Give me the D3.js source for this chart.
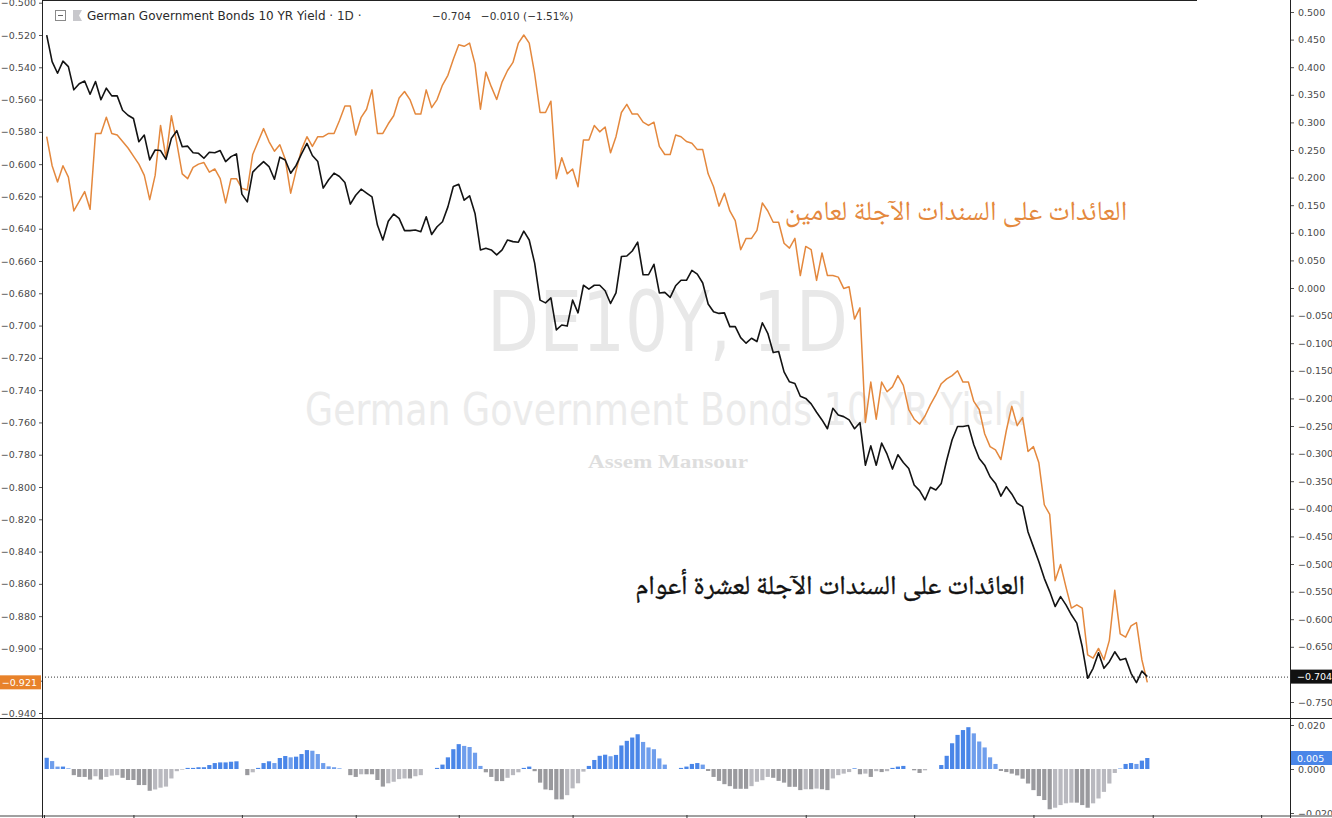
<!DOCTYPE html>
<html><head><meta charset="utf-8">
<script src="https://cdn.jsdelivr.net/npm/d3@7"></script>
<style>
html,body{margin:0;padding:0;background:#fff;}
svg{display:block;}
</style></head><body>
<svg id="chart" width="1332" height="818"></svg>
<script>
// ---- DATA ----
const tenYear = [0.458,0.410,0.389,0.411,0.401,0.359,0.370,0.375,0.351,0.374,
0.341,0.362,0.348,0.348,0.322,0.313,0.307,0.265,0.277,0.232,
0.250,0.249,0.233,0.271,0.285,0.256,0.257,0.245,0.244,0.235,
0.246,0.245,0.249,0.229,0.238,0.243,0.170,0.156,0.210,0.220,
0.229,0.220,0.197,0.237,0.232,0.208,0.222,0.243,0.262,0.240,
0.229,0.181,0.196,0.208,0.202,0.191,0.152,0.168,0.179,0.172,
0.165,0.114,0.087,0.121,0.134,0.126,0.104,0.104,0.105,0.102,
0.129,0.097,0.111,0.120,0.147,0.184,0.188,0.159,0.167,0.135,
0.069,0.072,0.069,0.060,0.069,0.087,0.084,0.083,0.103,0.087,
0.045,-0.022,-0.027,-0.018,-0.076,-0.067,-0.069,-0.022,-0.045,0.005,
-0.002,0.005,0.005,-0.005,-0.028,-0.009,0.057,0.058,0.067,0.083,
0.024,0.024,0.043,-0.009,-0.008,-0.017,0.004,0.014,0.014,0.032,
0.025,0.009,-0.029,-0.043,-0.046,-0.045,-0.070,-0.070,-0.090,-0.100,
-0.091,-0.097,-0.063,-0.082,-0.117,-0.115,-0.152,-0.170,-0.173,-0.196,
-0.200,-0.210,-0.225,-0.239,-0.255,-0.218,-0.230,-0.233,-0.239,-0.255,
-0.244,-0.321,-0.286,-0.321,-0.281,-0.301,-0.328,-0.302,-0.316,-0.327,
-0.357,-0.367,-0.384,-0.361,-0.366,-0.354,-0.312,-0.275,-0.251,-0.251,
-0.249,-0.284,-0.309,-0.321,-0.342,-0.354,-0.377,-0.360,-0.373,-0.390,
-0.396,-0.442,-0.469,-0.496,-0.526,-0.550,-0.577,-0.559,-0.574,-0.592,
-0.607,-0.650,-0.707,-0.689,-0.661,-0.689,-0.677,-0.659,-0.674,-0.671,
-0.698,-0.715,-0.694,-0.704];

const twoYear = [-0.583,-0.601,-0.611,-0.601,-0.608,-0.629,-0.623,-0.617,-0.628,-0.581,
-0.581,-0.571,-0.581,-0.582,-0.586,-0.590,-0.595,-0.600,-0.607,-0.622,
-0.607,-0.576,-0.596,-0.570,-0.587,-0.606,-0.609,-0.602,-0.600,-0.599,
-0.605,-0.603,-0.609,-0.624,-0.609,-0.609,-0.615,-0.616,-0.594,-0.586,
-0.578,-0.586,-0.592,-0.588,-0.597,-0.618,-0.604,-0.591,-0.583,-0.589,
-0.583,-0.583,-0.581,-0.581,-0.573,-0.564,-0.564,-0.582,-0.571,-0.566,
-0.554,-0.581,-0.581,-0.575,-0.570,-0.559,-0.555,-0.560,-0.569,-0.569,
-0.554,-0.565,-0.560,-0.551,-0.545,-0.535,-0.526,-0.527,-0.525,-0.538,
-0.566,-0.543,-0.552,-0.560,-0.549,-0.542,-0.537,-0.525,-0.520,-0.525,
-0.544,-0.568,-0.568,-0.561,-0.609,-0.596,-0.606,-0.603,-0.614,-0.585,
-0.585,-0.576,-0.580,-0.577,-0.593,-0.583,-0.568,-0.563,-0.569,-0.569,
-0.574,-0.576,-0.574,-0.589,-0.594,-0.594,-0.582,-0.583,-0.586,-0.587,
-0.591,-0.591,-0.606,-0.614,-0.626,-0.618,-0.629,-0.635,-0.653,-0.646,
-0.646,-0.641,-0.624,-0.629,-0.636,-0.636,-0.649,-0.652,-0.646,-0.669,
-0.651,-0.653,-0.672,-0.655,-0.669,-0.669,-0.670,-0.677,-0.676,-0.696,
-0.689,-0.760,-0.735,-0.758,-0.735,-0.741,-0.738,-0.731,-0.737,-0.752,
-0.758,-0.761,-0.756,-0.749,-0.743,-0.736,-0.733,-0.731,-0.728,-0.735,
-0.735,-0.747,-0.752,-0.767,-0.775,-0.777,-0.783,-0.765,-0.750,-0.762,
-0.757,-0.778,-0.775,-0.785,-0.811,-0.817,-0.858,-0.848,-0.862,-0.875,
-0.873,-0.875,-0.904,-0.906,-0.900,-0.907,-0.895,-0.864,-0.891,-0.893,
-0.886,-0.884,-0.907,-0.921];

const histValues = [0.0051,0.0036,0.0011,0.0011,0.0003,-0.0028,-0.0036,-0.0036,-0.0048,-0.0033,
-0.0048,-0.0036,-0.003,-0.0028,-0.004,-0.005,-0.005,-0.0073,-0.0073,-0.0099,
-0.0093,-0.0085,-0.008,-0.0043,-0.001,-0.0003,0.0005,0.0005,0.0008,0.0008,
0.0018,0.0027,0.003,0.003,0.0033,0.0035,0,-0.0028,-0.0015,0.0005,
0.0027,0.0035,0.0027,0.005,0.0059,0.0053,0.0056,0.0068,0.0086,0.0083,
0.0068,0.0027,0.0012,0.0008,0.0003,0,-0.0028,-0.0036,-0.0024,-0.0024,
-0.0024,-0.005,-0.008,-0.0065,-0.0058,-0.0046,-0.0043,-0.0043,-0.0033,-0.0028,
0,0,0.0005,0.002,0.0053,0.009,0.0113,0.0105,0.01,0.0074,
0.0014,-0.0015,-0.0036,-0.0055,-0.0055,-0.004,-0.0028,-0.0015,0.0005,0.0011,
-0.001,-0.0062,-0.0093,-0.0096,-0.0138,-0.0138,-0.0119,-0.0088,-0.0065,-0.0012,
0.0014,0.0041,0.006,0.0065,0.0058,0.0064,0.0107,0.0128,0.0143,0.0158,
0.0123,0.0098,0.009,0.0048,0.002,0,0,0.0005,0.0011,0.0023,
0.0027,0.002,-0.0009,-0.0036,-0.0054,-0.0069,-0.0078,-0.009,-0.009,-0.009,
-0.0078,-0.0058,-0.0051,-0.0036,-0.004,-0.0054,-0.0062,-0.0081,-0.0081,-0.0096,
-0.0092,-0.0092,-0.0089,-0.0092,-0.0096,-0.0043,-0.0028,-0.0021,-0.0014,0.0003,
-0.0024,-0.0021,-0.0036,-0.001,-0.0014,-0.001,0.0005,0.0011,0.0014,0,
-0.0006,-0.0018,-0.0006,0,0,0.0018,0.006,0.0117,0.0155,0.0177,
0.019,0.0162,0.0125,0.0098,0.0053,0.0023,-0.0009,-0.0014,-0.0021,-0.0029,
-0.0044,-0.0066,-0.0096,-0.0123,-0.0141,-0.0183,-0.0176,-0.0164,-0.0156,-0.0153,
-0.0153,-0.0164,-0.0176,-0.0156,-0.0134,-0.0104,-0.0066,-0.0018,0.0002,0.0023,
0.0027,0.0023,0.0038,0.005];

const days = tenYear.map((d, i) => i);           // trading-day index
const monthTicks = [-0.5, 16, 36, 57, 76, 97, 118, 140, 160, 182, 204, 224];
const leftTicks = [-0.50,-0.52,-0.54,-0.56,-0.58,-0.60,-0.62,-0.64,-0.66,-0.68,-0.70,-0.72,-0.74,-0.76,-0.78,-0.80,-0.82,-0.84,-0.86,-0.88,-0.90,-0.92,-0.94];
const rightTicks = [0.50,0.45,0.40,0.35,0.30,0.25,0.20,0.15,0.10,0.05,0.00,-0.05,-0.10,-0.15,-0.20,-0.25,-0.30,-0.35,-0.40,-0.45,-0.50,-0.55,-0.60,-0.65,-0.70,-0.75];
const histTicks = [0.02, 0.0, -0.02];
const headerTitle = "German Government Bonds 10 YR Yield";
const headerInterval = " · 1D ·";
const headerValues = "−0.704   −0.010 (−1.51%)";
const label2Y = "العائدات على السندات الآجلة لعامين";
const label10Y = "العائدات على السندات الآجلة لعشرة أعوام";

// ---- LAYOUT ----
const svg = d3.select("#chart");
const W = 1332, H = 818;
const PL = 42, PR = 1290, MAIN_B = 718, HIST_B = 815;
const ORANGE = "#e4883d", BLACK = "#131313";
const AXFONT = "DejaVu Sans, Verdana, sans-serif";

const x = d3.scaleLinear().domain([0, days.length - 1]).range([46.7, 1147.3]);
const yL = d3.scaleLinear().domain([-0.52, -0.94]).range([35, 713]);
const yR = d3.scaleLinear().domain([0.5, -0.75]).range([12, 702]);
const yH = d3.scaleLinear().domain([0.02, -0.02]).range([725, 813]);
const fmt = d3.format(".3f");

svg.append("rect").attr("width", W).attr("height", H).attr("fill", "#fff");

const defs = svg.append("defs");
defs.append("clipPath").attr("id", "clipMain").append("rect")
  .attr("x", PL).attr("y", 0).attr("width", PR - PL).attr("height", MAIN_B);
defs.append("clipPath").attr("id", "clipHist").append("rect")
  .attr("x", PL).attr("y", MAIN_B + 1).attr("width", PR - PL).attr("height", HIST_B - MAIN_B - 1);

// ---- WATERMARKS ----
const wm = svg.append("g").attr("clip-path", "url(#clipMain)");
wm.append("text").text("DE10Y, 1D")
  .attr("x", 487).attr("y", 351).attr("font-family", "DejaVu Sans, sans-serif")
  .attr("font-size", 84).attr("fill", "#e8e8e8")
  .attr("textLength", 361).attr("lengthAdjust", "spacingAndGlyphs");
wm.append("text").text(headerTitle)
  .attr("x", 305).attr("y", 425).attr("font-family", "DejaVu Sans, sans-serif")
  .attr("font-size", 44).attr("fill", "#ebebeb")
  .attr("textLength", 722).attr("lengthAdjust", "spacingAndGlyphs");
wm.append("text").text("Assem Mansour")
  .attr("x", 588).attr("y", 468).attr("font-family", "Liberation Serif, serif")
  .attr("font-weight", "bold").attr("font-size", 19).attr("fill", "#dedede")
  .attr("textLength", 160).attr("lengthAdjust", "spacingAndGlyphs");

// ---- LINES ----
const lineL = d3.line().x((d, i) => x(days[i])).y(d => yL(d));
const lineR = d3.line().x((d, i) => x(days[i])).y(d => yR(d));
const plot = svg.append("g").attr("clip-path", "url(#clipMain)");
plot.append("path").datum(twoYear).attr("d", lineL)
  .attr("fill", "none").attr("stroke", ORANGE).attr("stroke-width", 1.5).attr("stroke-linejoin", "round");
plot.append("path").datum(tenYear).attr("d", lineR)
  .attr("fill", "none").attr("stroke", BLACK).attr("stroke-width", 1.6).attr("stroke-linejoin", "round");

// current price dotted line (10Y)
svg.append("line").attr("x1", PL).attr("x2", PR)
  .attr("y1", yR(tenYear[tenYear.length - 1]) + 0.5).attr("y2", yR(tenYear[tenYear.length - 1]) + 0.5)
  .attr("stroke", "#333").attr("stroke-width", 1).attr("stroke-dasharray", "1,2");

// ---- ARABIC LABELS ----
const arFont = "Noto Naskh Arabic, Noto Sans Arabic, DejaVu Sans, serif";
svg.append("text").text(label2Y).attr("direction", "rtl")
  .attr("x", 956).attr("y", 220).attr("text-anchor", "middle")
  .attr("font-family", arFont).attr("font-size", 27.5).attr("fill", ORANGE);
svg.append("text").text(label10Y).attr("direction", "rtl")
  .attr("x", 830).attr("y", 594).attr("text-anchor", "middle")
  .attr("font-family", arFont).attr("font-size", 27).attr("fill", "#111")
  .attr("stroke", "#111").attr("stroke-width", 0.4);

// ---- HISTOGRAM ----
const bw = 4.2;
svg.append("g").attr("clip-path", "url(#clipHist)")
  .selectAll("rect").data(histValues).join("rect")
  .attr("x", (d, i) => x(days[i]) - bw / 2)
  .attr("width", bw)
  .attr("y", d => Math.min(yH(d), yH(0)))
  .attr("height", d => Math.abs(yH(d) - yH(0)))
  .attr("fill", (d, i) => {
    const p = i > 0 ? histValues[i - 1] : d;
    if (d >= 0) return d >= p ? "#4a86e8" : "#6f9eec";
    return d <= p ? "#9a9a9e" : "#b9b9bf";
  });

// ---- AXES ----
function styleAxis(g) {
  g.select(".domain").remove();
  g.selectAll("text").attr("font-family", AXFONT).attr("font-size", 9.5).attr("fill", "#4a4a4a");
  g.selectAll("line").attr("stroke", "#555");
}
svg.append("g").attr("transform", `translate(${PL},0)`)
  .call(d3.axisLeft(yL).tickValues(leftTicks).tickSize(3).tickPadding(3).tickFormat(fmt))
  .call(styleAxis);
svg.append("g").attr("transform", `translate(${PR},0)`)
  .call(d3.axisRight(yR).tickValues(rightTicks).tickSize(4).tickPadding(4).tickFormat(fmt))
  .call(styleAxis);
svg.append("g").attr("transform", `translate(${PR},0)`)
  .call(d3.axisRight(yH).tickValues(histTicks).tickSize(4).tickPadding(4).tickFormat(fmt))
  .call(styleAxis);

// time axis (bottom, cropped)
svg.append("line").attr("x1", 0).attr("x2", W).attr("y1", HIST_B + 1).attr("y2", HIST_B + 1)
  .attr("stroke", "#a0a0a0").attr("stroke-width", 2);
svg.append("g").attr("transform", `translate(0,${HIST_B})`)
  .call(d3.axisBottom(x).tickValues(monthTicks).tickSize(4).tickFormat(""))
  .call(g => { g.select(".domain").remove(); g.selectAll("line").attr("stroke", "#333"); });

// frame lines
svg.append("line").attr("x1", PL + 0.5).attr("x2", PL + 0.5).attr("y1", 0).attr("y2", H).attr("stroke", "#222");
svg.append("line").attr("x1", PR + 0.5).attr("x2", PR + 0.5).attr("y1", 0).attr("y2", H).attr("stroke", "#222");
svg.append("line").attr("x1", 0).attr("x2", W).attr("y1", MAIN_B + 0.5).attr("y2", MAIN_B + 0.5).attr("stroke", "#222");
svg.append("line").attr("x1", PL).attr("x2", 1197).attr("y1", 0.5).attr("y2", 0.5).attr("stroke", "#222");

// ---- PRICE LABELS ----
function priceTag(xPos, w, yPos, bg, txt, anchor, tx) {
  svg.append("rect").attr("x", xPos).attr("y", yPos - 7).attr("width", w).attr("height", 14).attr("fill", bg);
  svg.append("text").text(txt).attr("x", tx).attr("y", yPos + 3.5).attr("text-anchor", anchor)
    .attr("font-family", AXFONT).attr("font-size", 9.5).attr("fill", "#fff");
}
priceTag(0, PL - 1, yL(twoYear[twoYear.length - 1]), "#e8822a", fmt(twoYear[twoYear.length - 1]), "end", PL - 5);
priceTag(PR + 1, W - PR - 1, yR(tenYear[tenYear.length - 1]), "#111", fmt(tenYear[tenYear.length - 1]), "start", PR + 7);
priceTag(PR + 1, W - PR - 1, yH(histValues[histValues.length - 1]), "#4a86e8", fmt(histValues[histValues.length - 1]), "start", PR + 7);

// ---- HEADER ----
const hdr = svg.append("g");
hdr.append("rect").attr("x", 55.5).attr("y", 10.5).attr("width", 10).attr("height", 10)
  .attr("fill", "#fff").attr("stroke", "#8a8a8a");
hdr.append("line").attr("x1", 58).attr("x2", 63).attr("y1", 15.5).attr("y2", 15.5).attr("stroke", "#666");
hdr.append("path").attr("d", "M73,10 L82,10 L79,15.5 L82,21 L73,21 Z").attr("fill", "#c8c8cc");
const ht = hdr.append("text").attr("x", 87).attr("y", 20)
  .attr("font-family", AXFONT).attr("font-size", 12).attr("fill", "#2a2a2a");
ht.append("tspan").text(headerTitle);
ht.append("tspan").text(headerInterval).attr("fill", "#333");
hdr.append("text").text(headerValues).attr("x", 432).attr("y", 20)
  .attr("font-family", AXFONT).attr("font-size", 10.5).attr("fill", "#333").attr("xml:space", "preserve")
  .style("white-space", "pre");
</script>
</body></html>
